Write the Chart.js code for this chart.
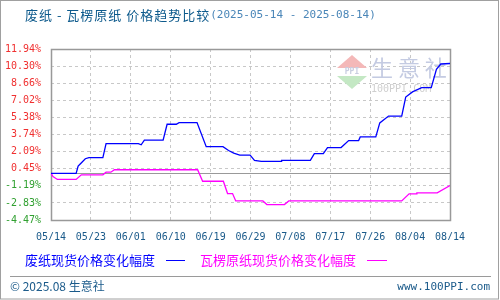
<!DOCTYPE html>
<html><head><meta charset="utf-8">
<script src="https://cdn.jsdelivr.net/npm/chart.js@4/dist/chart.umd.min.js"></script>
<style>html,body{margin:0;padding:0;background:#fff;}canvas{display:block;}</style>
</head><body>
<canvas id="c" width="500" height="300"></canvas>
<script>
// ---- data ----
const titleMain = '废纸 - 瓦楞原纸 价格趋势比较';
const titleDates = '(2025-05-14 - 2025-08-14)';
const dateLabels = ['05/14','05/23','06/01','06/10','06/19','06/29','07/08','07/17','07/26','08/04','08/14'];
const yTicks = [11.94,10.30,8.66,7.02,5.38,3.74,2.09,0.45,-1.19,-2.83,-4.47];
const seriesNames = ['废纸现货价格变化幅度','瓦楞原纸现货价格变化幅度'];
// position along the time axis (0 = 05/14, 100 = 08/14, each label 10 apart)
const wastePos = [0,6.3,6.8,7.2,8.6,9.5,13,13.8,21.9,22.6,23.4,28.1,29.1,31.4,32.1,36.6,38.9,43.1,44.5,45.8,47.3,49.9,51,52.7,57.7,57.8,65,66,68.25,69.3,72.7,74.6,77.1,77.5,81.4,82.4,84.6,87.9,88.9,90.6,92.9,95.3,96.6,97.7,100];
const wasteVal = [0,0,0.7,0.86,1.41,1.51,1.51,2.86,2.86,2.75,3.2,3.2,4.72,4.72,4.88,4.88,2.57,2.57,2.2,1.95,1.75,1.75,1.25,1.15,1.15,1.25,1.25,1.9,1.9,2.48,2.48,3.15,3.15,3.5,3.5,4.85,5.5,5.5,7.33,7.82,8.24,8.24,10.0,10.5,10.55];
const corrPos = [0,0.5,1.6,6.3,7.6,13,13.8,15,15.9,36.75,38,43.2,44.25,45.5,46.3,53.1,54.1,58.5,59.6,87.9,89.75,91.5,91.7,96.8,100];
const corrVal = [0,-0.3,-0.58,-0.58,-0.13,-0.13,0.12,0.12,0.35,0.35,-0.75,-0.75,-1.93,-1.93,-2.64,-2.64,-2.99,-2.99,-2.64,-2.64,-1.96,-1.96,-1.86,-1.86,-1.16];
const colors = ['#0000ff','#ff00ff'];

const CJK = '"Noto Sans CJK SC", sans-serif';
const MONO = '"DejaVu Sans Mono", monospace';

const toPts = (xs, ys) => xs.map((x, i) => ({x, y: ys[i]}));

const framePlugin = {
  id: 'frame',
  beforeDatasetsDraw(chart) {
    const {ctx, chartArea: a, scales} = chart;
    ctx.save();
    // watermark
    const cx = 352, cy = 70;
    ctx.fillStyle = '#f4b8b8';
    ctx.beginPath(); ctx.moveTo(cx, cy - 15); ctx.lineTo(cx + 15, cy - 2); ctx.lineTo(cx - 15, cy - 2); ctx.closePath(); ctx.fill();
    ctx.fillStyle = '#c4e8c4';
    ctx.beginPath(); ctx.moveTo(cx - 15, cy + 6); ctx.lineTo(cx + 15, cy + 6); ctx.lineTo(cx, cy + 19); ctx.closePath(); ctx.fill();
    ctx.fillStyle = '#c8cde0';
    ctx.font = 'bold 8px ' + MONO; ctx.textAlign = 'center'; ctx.textBaseline = 'middle';
    ctx.fillText('PPI', cx, cy + 2);
    ctx.fillStyle = '#c4cbe2';
    ctx.font = '22px ' + CJK; ctx.textAlign = 'left'; ctx.textBaseline = 'middle';
    ctx.fillText('生 意 社', 371, 68);
    ctx.fillStyle = '#cfcfcf';
    ctx.font = '10px ' + MONO;
    ctx.fillText('100PPI.COM', 371, 89);
    // zero line
    const z = Math.round(scales.y.getPixelForValue(0)) + 0.5;
    ctx.strokeStyle = '#999'; ctx.lineWidth = 1.2;
    ctx.beginPath(); ctx.moveTo(a.left, z); ctx.lineTo(a.right, z); ctx.stroke();
    // frame
    ctx.lineWidth = 1.5;
    ctx.strokeRect(Math.round(a.left) + 0.5, Math.round(a.top) + 0.5, Math.round(a.right - a.left), Math.round(a.bottom - a.top));
    ctx.restore();
  },
  afterDraw(chart) {
    const {ctx} = chart;
    ctx.save();
    ctx.textBaseline = 'middle'; ctx.textAlign = 'left';
    // title
    ctx.font = '13px ' + CJK; ctx.fillStyle = '#0d5a8c';
    ctx.letterSpacing = '1px';
    ctx.fillText(titleMain, 25, 15);
    const w = ctx.measureText(titleMain).width;
    ctx.letterSpacing = '0px';
    ctx.font = '11px ' + MONO; ctx.fillStyle = '#4a86b8';
    ctx.fillText(titleDates, 25 + w, 15);
    // legend
    ctx.font = '13px ' + CJK;
    ctx.fillStyle = colors[0]; ctx.fillText(seriesNames[0], 25, 260);
    ctx.strokeStyle = colors[0]; ctx.lineWidth = 1;
    ctx.beginPath(); ctx.moveTo(166, 260.5); ctx.lineTo(185, 260.5); ctx.stroke();
    ctx.fillStyle = colors[1]; ctx.fillText(seriesNames[1], 200, 260);
    ctx.strokeStyle = colors[1];
    ctx.beginPath(); ctx.moveTo(367, 260.5); ctx.lineTo(387, 260.5); ctx.stroke();
    // separator
    ctx.strokeStyle = '#9a9a9a';
    ctx.beginPath(); ctx.moveTo(10, 276.5); ctx.lineTo(491, 276.5); ctx.stroke();
    // footer
    ctx.fillStyle = '#1a5a8a';
    ctx.font = '12px ' + CJK;
    ctx.fillText('© 2025.08 生意社', 10, 286);
    ctx.font = '11px ' + MONO; ctx.textAlign = 'right';
    ctx.fillText('www.100PPI.com', 490, 287);
    // outer border
    ctx.strokeStyle = '#a0a0a0'; ctx.lineWidth = 1;
    ctx.strokeRect(0.5, 0.5, 498, 298.5);
    ctx.restore();
  }
};

new Chart(document.getElementById('c'), {
  type: 'line',
  data: {
    datasets: [
      {label: seriesNames[0], data: toPts(wastePos, wasteVal), borderColor: colors[0], borderWidth: 1.3, pointRadius: 0, tension: 0, fill: false},
      {label: seriesNames[1], data: toPts(corrPos, corrVal), borderColor: colors[1], borderWidth: 1.3, pointRadius: 0, tension: 0, fill: false}
    ]
  },
  options: {
    responsive: false, animation: false, devicePixelRatio: 1,
    layout: {padding: {left: 0, top: 49, right: 50, bottom: 60}},
    plugins: {legend: {display: false}, tooltip: {enabled: false}, title: {display: false}},
    scales: {
      x: {
        type: 'linear', min: 0, max: 100,
        afterFit(s) { s.height = 20; },
        afterBuildTicks(s) { s.ticks = dateLabels.map((_, i) => ({value: i * 10})); },
        ticks: {
          padding: 11, color: '#1a5a8a', font: {family: MONO, size: 10},
          maxRotation: 0, autoSkip: false,
          callback: (v) => dateLabels[Math.round(v / 10)]
        },
        grid: {color: '#c8c8c8', drawTicks: false, lineWidth: 1},
        border: {display: false, dash: [3, 3]}
      },
      y: {
        type: 'linear', min: -4.47, max: 11.94,
        afterFit(s) { s.width = 51; },
        afterBuildTicks(s) { s.ticks = yTicks.map(v => ({value: v})); },
        ticks: {
          padding: 10, font: {family: MONO, size: 10}, autoSkip: false,
          color: (c) => c.tick.value >= 0 ? '#f03030' : '#30a030',
          callback: (v) => v.toFixed(2) + '%'
        },
        grid: {color: '#c8c8c8', drawTicks: false, lineWidth: 1},
        border: {display: false, dash: [3, 3]}
      }
    }
  },
  plugins: [framePlugin]
});
</script>
</body></html>
